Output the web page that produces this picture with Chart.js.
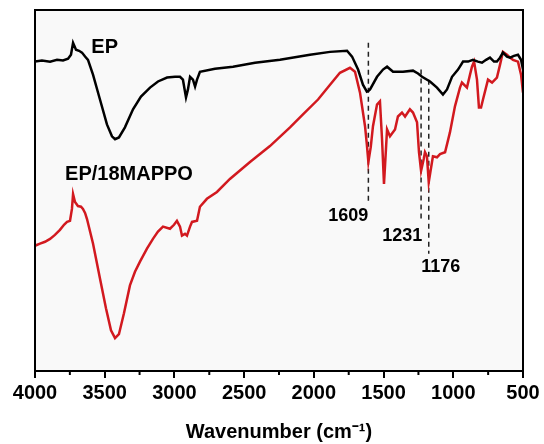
<!DOCTYPE html>
<html>
<head>
<meta charset="utf-8">
<script src="https://cdn.jsdelivr.net/npm/chart.js@4.4.1/dist/chart.umd.min.js"></script>
<style>
  html, body { margin: 0; padding: 0; background: #fff; }
  #wrap { width: 544px; height: 444px; }
</style>
</head>
<body>
<div id="wrap"><canvas id="ftir"></canvas></div>
<script>
// wavenumber (cm-1) and transmittance (a.u.)
const epWave = [4000,3950,3892,3842,3799,3763,3742,3727,3706,3684,3663,3641,3620,3584,3534,3484,3448,3426,3398,3355,3297,3240,3175,3118,3053,2996,2960,2939,2917,2903,2888,2867,2852,2838,2817,2709,2580,2422,2243,2028,1884,1762,1726,1683,1648,1620,1609,1597,1547,1504,1475,1432,1361,1289,1253,1224,1167,1117,1074,1045,1009,966,930,894,859,823,794,765,737,708,687,665,644,615,593,565,536,514,500];
const epTrans = [85.7,86.0,85.7,86.2,86.0,86.5,87.6,90.9,89.0,88.7,88.2,87.1,86.2,82.1,75.2,68.3,65.0,64.2,64.7,67.5,72.5,76.0,78.5,80.2,81.3,81.5,81.5,80.7,75.8,78.0,81.5,80.7,78.8,80.7,82.9,83.7,84.3,85.4,86.2,87.6,88.4,88.7,87.1,83.5,79.3,77.4,77.6,78.0,81.5,83.5,84.3,82.9,82.9,83.2,82.4,81.5,80.2,78.5,76.6,78.0,81.5,83.5,85.7,85.7,86.2,85.7,85.4,86.2,86.8,85.7,85.7,86.8,88.2,87.1,86.8,87.3,87.6,86.2,83.5];

const mappoWave = [4000,3964,3928,3892,3857,3821,3792,3770,3749,3735,3727,3713,3692,3670,3656,3641,3627,3584,3534,3491,3455,3426,3398,3362,3319,3283,3247,3197,3154,3118,3082,3032,3003,2982,2960,2946,2924,2910,2888,2874,2838,2817,2767,2695,2602,2458,2315,2171,2078,1970,1884,1813,1741,1705,1669,1633,1620,1609,1592,1576,1547,1526,1511,1497,1483,1475,1454,1418,1397,1368,1346,1311,1289,1260,1246,1231,1212,1203,1189,1176,1146,1117,1095,1059,1024,988,952,938,902,880,866,851,830,816,801,787,751,722,687,665,644,615,593,572,536,514,500];
const mappoTrans = [34.7,35.3,35.8,36.6,37.7,39.1,40.5,41.3,41.6,44.9,49.0,46.8,45.7,45.5,44.9,43.8,42.1,35.3,25.6,17.4,11.3,9.1,10.2,16.0,23.7,27.5,30.3,33.9,36.6,38.6,40.0,39.4,40.5,41.6,40.0,37.5,38.0,37.5,40.0,41.3,41.6,45.5,47.7,49.6,53.2,57.9,62.3,67.5,71.1,75.2,79.3,82.6,84.0,82.9,77.1,67.8,62.8,57.9,62.0,67.8,73.8,74.7,64.2,51.8,61.4,66.9,65.0,66.9,70.5,71.6,70.5,72.5,71.6,68.9,60.6,55.4,58.7,60.6,59.5,52.3,59.5,59.2,60.1,60.6,66.1,73.3,78.5,79.9,78.5,82.1,84.3,85.7,80.7,73.0,73.0,75.2,80.7,79.9,81.3,84.8,88.4,87.6,86.8,86.2,85.7,82.1,77.1];

const xTicks = [4000,3500,3000,2500,2000,1500,1000,500];
const minorTicks = [3750,3250,2750,2250,1750,1250,750];

// marked bands: wavenumber, top and bottom of the dashed line
const bandWave = [1609, 1231, 1176];
const bandTop = [90.9, 83.5, 80.7];
const bandBottom = [46.8, 41.3, 32.5];
const bandLabel = ['1609', '1231', '1176'];
const bandLabelPos = [[1609, 43.0, 'right'], [1222, 37.5, 'right'], [1090, 28.7, 'center']];

const seriesNames = ['EP', 'EP/18MAPPO'];
const seriesLabelPos = [[3500, 89.5], [3326, 54.5]];

function pts(xs, ys) { return xs.map((x, i) => ({x: x, y: ys[i]})); }

const datasets = [
  {data: pts(epWave, epTrans), borderColor: '#000000', borderWidth: 2.5, pointRadius: 0, tension: 0},
  {data: pts(mappoWave, mappoTrans), borderColor: '#d2191f', borderWidth: 2.5, pointRadius: 0, tension: 0}
];
bandWave.forEach((w, i) => {
  datasets.push({
    data: [{x: w, y: bandTop[i]}, {x: w, y: bandBottom[i]}],
    borderColor: '#222', borderWidth: 1.5, borderDash: [5, 4], pointRadius: 0
  });
});

const extras = {
  id: 'extras',
  beforeDraw(chart) {
    const {ctx, chartArea: a} = chart;
    ctx.save();
    ctx.fillStyle = '#f9f9f9';
    ctx.fillRect(a.left, a.top, a.right - a.left, a.bottom - a.top);
    ctx.restore();
  },
  afterDraw(chart) {
    const {ctx, chartArea: a, scales} = chart;
    const xs = scales.x, ys = scales.y;
    ctx.save();
    ctx.strokeStyle = '#000';
    ctx.lineWidth = 2;
    ctx.strokeRect(a.left, a.top, a.right - a.left, a.bottom - a.top);
    // minor ticks
    minorTicks.forEach(t => {
      const px = xs.getPixelForValue(t);
      ctx.beginPath();
      ctx.moveTo(px, a.bottom);
      ctx.lineTo(px, a.bottom + 4);
      ctx.stroke();
    });
    ctx.fillStyle = '#000';
    ctx.textBaseline = 'middle';
    ctx.font = 'bold 18px "Liberation Sans", Arial, sans-serif';
    bandLabel.forEach((t, i) => {
      const p = bandLabelPos[i];
      ctx.textAlign = p[2];
      ctx.fillText(t, xs.getPixelForValue(p[0]), ys.getPixelForValue(p[1]));
    });
    ctx.font = 'bold 20px "Liberation Sans", Arial, sans-serif';
    ctx.textAlign = 'center';
    seriesNames.forEach((t, i) => {
      const p = seriesLabelPos[i];
      ctx.fillText(t, xs.getPixelForValue(p[0]), ys.getPixelForValue(p[1]));
    });
    ctx.restore();
  }
};

new Chart(document.getElementById('ftir'), {
  type: 'line',
  data: {datasets: datasets},
  options: {
    responsive: true,
    maintainAspectRatio: false,
    animation: false,
    layout: {padding: {left: 35, right: 21, top: 10, bottom: 0}},
    plugins: {legend: {display: false}, tooltip: {enabled: false}},
    scales: {
      x: {
        type: 'linear',
        reverse: true,
        min: 500,
        max: 4000,
        afterBuildTicks: (s) => { s.ticks = xTicks.map(v => ({value: v})); },
        ticks: {
          color: '#000',
          padding: 3,
          maxRotation: 0,
          autoSkip: false,
          callback: (v) => String(v),
          font: {family: '"Liberation Sans", Arial, sans-serif', size: 20, weight: 'bold'}
        },
        grid: {drawOnChartArea: false, color: '#000', lineWidth: 2, tickLength: 7},
        border: {color: '#000', width: 2},
        title: {
          display: true,
          text: 'Wavenumber (cm\u207B\u00B9)',
          color: '#000',
          padding: {top: 12, bottom: 0},
          font: {family: '"Liberation Sans", Arial, sans-serif', size: 20, weight: 'bold'}
        }
      },
      y: {display: false, min: 0, max: 100}
    }
  },
  plugins: [extras]
});
</script>
</body>
</html>
